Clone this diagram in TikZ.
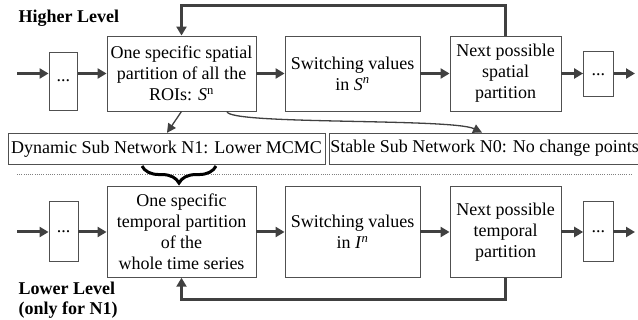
\documentclass[tikz,border=0pt]{standalone}
\usepackage{fontspec}
\setmainfont{Liberation Serif}
\usetikzlibrary{arrows.meta,decorations.pathreplacing}
\definecolor{ln}{HTML}{404040}
\definecolor{bx}{HTML}{505050}
\begin{document}
\begin{tikzpicture}[x=1pt,y=-1pt,
  box/.style={draw=bx, line width=0.9pt, fill=white, inner sep=0pt, align=center,
              font=\fontsize{18}{21}\selectfont},
  wide/.style={draw=bx, line width=0.9pt, fill=white, inner xsep=2.5pt, inner ysep=0pt,
              minimum height=31pt, font=\fontsize{18}{21}\selectfont},
  lbl/.style={inner sep=0pt, font=\fontsize{18}{21}\selectfont\bfseries},
  flow/.style={draw=ln, line width=3pt, -{Triangle[length=9pt,width=10pt]}},
  thinflow/.style={draw=ln, line width=1.3pt, -{Triangle[length=9pt,width=9pt]}}]
\useasboundingbox (0,0) rectangle (638,320);

% ---------- top row ----------
\node[lbl, anchor=base west] (hl) at (18.5,23) {Higher Level};
\node[box, minimum width=28.5pt, minimum height=58pt] (sl1) at (63.25,81) {...};
\node[box, minimum width=149pt, minimum height=75pt] (b1) at (181.5,73.5)
  {One specific spatial\\partition of all the\\ROIs: \textit{S}\textsuperscript{n}};
\node[box, minimum width=135pt, minimum height=75pt] (b2) at (352.5,73.5)
  {Switching values\\in \textit{S}\textsuperscript{\textit{n}}};
\node[box, minimum width=111pt, minimum height=75pt] (b3) at (505.5,73.5)
  {Next possible\\spatial\\partition};
\node[box, minimum width=29.5pt, minimum height=45pt] (sr1) at (598.3,74.3) {...};
\coordinate (in1) at (17,73.5);
\coordinate (out1) at (635,73.5);

\draw[flow] (in1) -- (in1 -| sl1.west);
\draw[flow] (sl1.east |- b1.west) -- (b1.west);
\draw[flow] (b1.east) -- (b2.west);
\draw[flow] (b2.east) -- (b3.west);
\draw[flow] (b3.east) -- (b3.east -| sr1.west);
\draw[flow] (sr1.east |- b3.east) -- (out1);
\draw[flow] (b3.north) -- ++(0,-30) -| (b1.north);

% ---------- sub networks ----------
\node[wide, minimum width=317pt, inner xsep=0pt] (dyn) at (166.5,148.8)
  {Dynamic Sub Network N1: Lower MCMC};
\node[wide, anchor=west, inner xsep=1pt] (stab) at (329,148.5)
  {Stable Sub Network N0: No change points};

\draw[thinflow] ([xshift=0pt]b1.south) -- ([xshift=0.5pt]dyn.north);
\draw[thinflow] ([xshift=45.5pt]b1.south) .. controls (227,125) and (452,118) .. ([xshift=153pt]stab.north west);

\coordinate (dl1) at (17,174);
\coordinate (dl2) at (633,174);
\draw[draw=gray, line width=0.8pt, dash pattern=on 1pt off 1.2pt] (dl1) -- (dl2);

\draw[decorate, decoration={brace, amplitude=17pt}, line width=3pt, black]
  ([xshift=49.5pt,yshift=-1.3pt]dyn.south) -- ([xshift=-24.5pt,yshift=-1.3pt]dyn.south);

% ---------- bottom row ----------
\node[box, minimum width=29pt, minimum height=60pt] (sl2) at (63.5,231.7) {...};
\node[box, minimum width=149pt, minimum height=90.6pt] (c1) at (181.5,232)
  {One specific\\temporal partition\\of the\\whole time series};
\node[box, minimum width=135pt, minimum height=90.6pt] (c2) at (352.5,232)
  {Switching values\\in \textit{I}\textsuperscript{\textit{n}}};
\node[box, minimum width=111pt, minimum height=90.6pt] (c3) at (505.5,232)
  {Next possible\\temporal\\partition};
\node[box, minimum width=29.3pt, minimum height=60pt] (sr2) at (598.3,231.7) {...};
\coordinate (in2) at (17,232);
\coordinate (out2) at (635,232);

\draw[flow] (in2) -- (in2 -| sl2.west);
\draw[flow] (sl2.east |- c1.west) -- (c1.west);
\draw[flow] (c1.east) -- (c2.west);
\draw[flow] (c2.east) -- (c3.west);
\draw[flow] (c3.east) -- (c3.east -| sr2.west);
\draw[flow] (sr2.east |- c3.east) -- (out2);
\draw[flow] (c3.south) -- ++(0,22) -| (c1.south);

\node[lbl, anchor=base west] (ll1) at (18.5,295) {Lower Level};
\node[lbl, anchor=base west] (ll2) at (18.5,315) {(only for N1)};
\end{tikzpicture}
\end{document}
